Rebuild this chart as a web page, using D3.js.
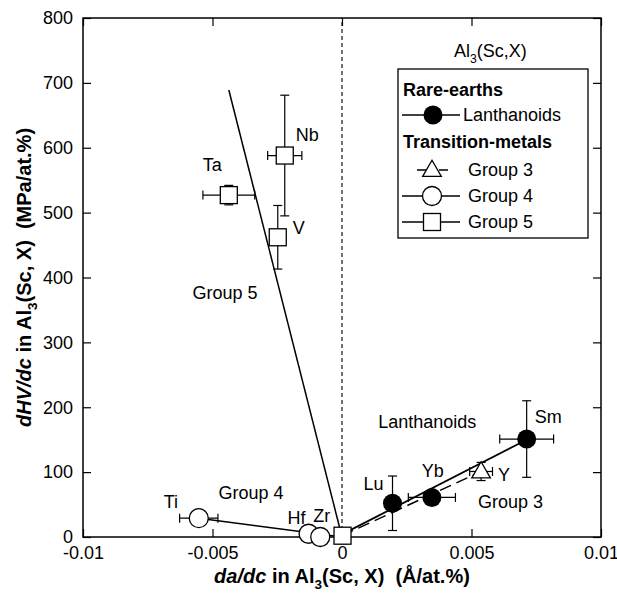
<!DOCTYPE html>
<html lang="en">
<head>
<meta charset="utf-8">
<title>dHV/dc vs da/dc in Al3(Sc,X)</title>
<script src="https://d3js.org/d3.v7.min.js"></script>
<style>
  body { margin: 0; background: #fff; }
  svg { font-family: "Liberation Sans", Arial, sans-serif; }
  .frame { fill: none; stroke: #000; stroke-width: 1.5; }
  .axis path { display: none; }
  .axis line { stroke: #000; stroke-width: 1.2; }
  .axis text { font-size: 18px; fill: #000; font-family: "Liberation Sans", Arial, sans-serif; }
</style>
</head>
<body>
<script>
// axis ticks
var xTicks = [-0.01, -0.005, 0, 0.005, 0.01];
var xTickLabels = ["-0.01", "-0.005", "0", "0.005", "0.01"];
var yTicks = [0, 100, 200, 300, 400, 500, 600, 700, 800];

// rare-earths (lanthanoids)
var lanthNames = ["Lu", "Yb", "Sm"];
var lanthDa    = [0.00195, 0.00347, 0.00713];
var lanthDaErr = [0, 0.00091, 0.00104];
var lanthHv    = [52, 61, 151];
var lanthHvErr = [42, 6, 59];
var lanthFit   = [[0, 4], [0.00713, 150]];

// group 3
var g3Names = ["Y"];
var g3Da    = [0.00537];
var g3DaErr = [0.00044];
var g3Hv    = [101];
var g3HvErr = [14];
var g3Fit   = [[0, 2], [0.00537, 101]];

// group 4
var g4Names = ["Ti", "Hf", "Zr"];
var g4Da    = [-0.00553, -0.00129, -0.00084];
var g4DaErr = [0.00074, 0, 0];
var g4Hv    = [29, 5, 0];
var g4HvErr = [0, 0, 0];
var g4Fit   = [[-0.00553, 29], [0, 0]];

// group 5 (first point is Al3Sc itself)
var g5Names = ["", "Ta", "Nb", "V"];
var g5Da    = [0.00002, -0.00437, -0.00221, -0.00248];
var g5DaErr = [0, 0.001, 0.00066, 0];
var g5Hv    = [2, 527, 588, 462];
var g5HvErr = [0, 15, 93, 49];
var g5Fit   = [[-0.00437, 689], [0, 0]];

var W = 617, H = 595;
var margin = {top: 18, right: 16, bottom: 58, left: 83};
var width = W - margin.left - margin.right,
    height = H - margin.top - margin.bottom;

var svg = d3.select("body").append("svg")
    .attr("width", W)
    .attr("height", H);

var g = svg.append("g")
    .attr("transform", "translate(" + margin.left + "," + margin.top + ")");

var x = d3.scaleLinear().domain([-0.01, 0.01]).range([0, width]);
var y = d3.scaleLinear().domain([0, 800]).range([height, 0]);

// axes with inward ticks, mirrored on top/right
g.append("g").attr("class", "axis")
    .attr("transform", "translate(0," + height + ")")
    .call(d3.axisBottom(x).tickValues(xTicks).tickSizeInner(-8).tickSizeOuter(0).tickPadding(9)
        .tickFormat(function(d, i) { return xTickLabels[i]; }));
g.append("g").attr("class", "axis")
    .call(d3.axisTop(x).tickValues(xTicks).tickSizeInner(-8).tickSizeOuter(0).tickFormat(""));
g.append("g").attr("class", "axis")
    .call(d3.axisLeft(y).tickValues(yTicks).tickSizeInner(-8).tickSizeOuter(0).tickPadding(10)
        .tickFormat(d3.format("d")));
g.append("g").attr("class", "axis")
    .attr("transform", "translate(" + width + ",0)")
    .call(d3.axisRight(y).tickValues(yTicks).tickSizeInner(-8).tickSizeOuter(0).tickFormat(""));

// dashed line at da/dc = 0
g.append("line")
    .attr("x1", x(0)).attr("x2", x(0))
    .attr("y1", y(0)).attr("y2", y(800))
    .attr("stroke", "#000").attr("stroke-width", 1.1)
    .attr("stroke-dasharray", "4,3");

g.append("rect").attr("class", "frame")
    .attr("width", width).attr("height", height);

// helper: rich text with subscripts / bold / italic
function rich(sel, parts, size) {
  parts.forEach(function(p) {
    var t = sel.append("tspan").text(p.t);
    if (p.b) t.attr("font-weight", "bold");
    if (p.i) t.attr("font-style", "italic");
    if (p.sub) {
      t.attr("font-size", size * 0.68).attr("dy", size * 0.3);
    } else if (p.after) {
      t.attr("dy", -size * 0.3);
    }
  });
}

// fit lines
var line = d3.line().x(function(d) { return x(d[0]); }).y(function(d) { return y(d[1]); });
g.append("path").datum(g5Fit).attr("d", line)
    .attr("fill", "none").attr("stroke", "#000").attr("stroke-width", 1.5);
g.append("path").datum(g4Fit).attr("d", line)
    .attr("fill", "none").attr("stroke", "#000").attr("stroke-width", 1.5);
g.append("path").datum(g3Fit).attr("d", line)
    .attr("fill", "none").attr("stroke", "#000").attr("stroke-width", 1.5)
    .attr("stroke-dasharray", "12,6");
g.append("path").datum(lanthFit).attr("d", line)
    .attr("fill", "none").attr("stroke", "#000").attr("stroke-width", 1.8);

// error bars
function errorBars(da, daErr, hv, hvErr) {
  var cap = 4.5;
  var eb = g.append("g").attr("stroke", "#000").attr("stroke-width", 1.2);
  da.forEach(function(d, i) {
    var cx = x(d), cy = y(hv[i]);
    if (daErr[i] > 0) {
      var x0 = x(d - daErr[i]), x1 = x(d + daErr[i]);
      eb.append("line").attr("x1", x0).attr("x2", x1).attr("y1", cy).attr("y2", cy);
      eb.append("line").attr("x1", x0).attr("x2", x0).attr("y1", cy - cap).attr("y2", cy + cap);
      eb.append("line").attr("x1", x1).attr("x2", x1).attr("y1", cy - cap).attr("y2", cy + cap);
    }
    if (hvErr[i] > 0) {
      var y0 = y(hv[i] - hvErr[i]), y1 = y(hv[i] + hvErr[i]);
      eb.append("line").attr("x1", cx).attr("x2", cx).attr("y1", y0).attr("y2", y1);
      eb.append("line").attr("x1", cx - cap).attr("x2", cx + cap).attr("y1", y0).attr("y2", y0);
      eb.append("line").attr("x1", cx - cap).attr("x2", cx + cap).attr("y1", y1).attr("y2", y1);
    }
  });
}
errorBars(g5Da, g5DaErr, g5Hv, g5HvErr);
errorBars(g4Da, g4DaErr, g4Hv, g4HvErr);
errorBars(g3Da, g3DaErr, g3Hv, g3HvErr);
errorBars(lanthDa, lanthDaErr, lanthHv, lanthHvErr);

// markers
var sq = 17, r = 9.5;
var triangle = d3.symbol().type(d3.symbolTriangle).size(150);

g.append("g").selectAll("rect").data(g5Da).enter().append("rect")
    .attr("x", function(d) { return x(d) - sq / 2; })
    .attr("y", function(d, i) { return y(g5Hv[i]) - sq / 2; })
    .attr("width", sq).attr("height", sq)
    .attr("fill", "#fff").attr("stroke", "#000").attr("stroke-width", 1.3);

g.append("g").selectAll("circle").data(g4Da).enter().append("circle")
    .attr("cx", function(d) { return x(d); })
    .attr("cy", function(d, i) { return y(g4Hv[i]); })
    .attr("r", r)
    .attr("fill", "#fff").attr("stroke", "#000").attr("stroke-width", 1.3);

g.append("g").selectAll("path").data(g3Da).enter().append("path")
    .attr("d", triangle)
    .attr("transform", function(d, i) { return "translate(" + x(d) + "," + (y(g3Hv[i]) + 1) + ")"; })
    .attr("fill", "#fff").attr("stroke", "#000").attr("stroke-width", 1.3);

g.append("g").selectAll("circle").data(lanthDa).enter().append("circle")
    .attr("cx", function(d) { return x(d); })
    .attr("cy", function(d, i) { return y(lanthHv[i]); })
    .attr("r", r)
    .attr("fill", "#000");

// point labels, offsets [dx, dy, anchor]
var fs = 18;
function pointLabels(names, da, hv, offs) {
  names.forEach(function(n, i) {
    if (!n) return;
    var o = offs[i];
    g.append("text")
        .attr("x", x(da[i]) + o[0]).attr("y", y(hv[i]) + o[1])
        .attr("dy", "0.35em")
        .attr("text-anchor", o[2])
        .attr("font-size", fs)
        .text(n);
  });
}
pointLabels(g5Names, g5Da, g5Hv, [null, [-26, -30, "start"], [11, -21, "start"], [15, -10, "start"]]);
pointLabels(g4Names, g4Da, g4Hv, [[-35, -16, "start"], [-3, -16, "end"], [-7, -21, "start"]]);
pointLabels(g3Names, g3Da, g3Hv, [[17, 3, "start"]]);
pointLabels(lanthNames, lanthDa, lanthHv, [[-9, -20, "end"], [-10, -27, "start"], [8, -22, "start"]]);

// group annotations
var groupLabels = [
  {t: "Group 5", da: -0.00577, hv: 376},
  {t: "Group 4", da: -0.00477, hv: 69},
  {t: "Lanthanoids", da: 0.0014, hv: 177},
  {t: "Group 3", da: 0.00525, hv: 54}
];
g.selectAll(".glab").data(groupLabels).enter().append("text")
    .attr("class", "glab")
    .attr("x", function(d) { return x(d.da); })
    .attr("y", function(d) { return y(d.hv); })
    .attr("dy", "0.35em")
    .attr("font-size", fs)
    .text(function(d) { return d.t; });

// Al3(Sc,X) heading
var head = g.append("text")
    .attr("x", x(0.00573)).attr("y", y(749)).attr("dy", "0.35em")
    .attr("text-anchor", "middle").attr("font-size", fs);
rich(head, [{t: "Al"}, {t: "3", sub: true}, {t: "(Sc,X)", after: true}], fs);

// legend
var lg = svg.append("g").attr("transform", "translate(398,69)");
lg.append("rect").attr("width", 190).attr("height", 169)
    .attr("fill", "#fff").attr("stroke", "#000").attr("stroke-width", 1.3);

lg.append("text").attr("x", 5).attr("y", 21).attr("dy", "0.35em")
    .attr("font-size", fs).attr("font-weight", "bold").text("Rare-earths");
lg.append("text").attr("x", 5).attr("y", 73).attr("dy", "0.35em")
    .attr("font-size", fs).attr("font-weight", "bold").text("Transition-metals");

var rows = [
  {y: 46, label: "Lanthanoids", kind: "filled", tx: 65},
  {y: 101, label: "Group 3", kind: "triangle", tx: 70},
  {y: 127, label: "Group 4", kind: "circle", tx: 70},
  {y: 153, label: "Group 5", kind: "square", tx: 70}
];
rows.forEach(function(d) {
  var row = lg.append("g").attr("transform", "translate(0," + d.y + ")");
  if (d.kind === "triangle") {
    row.append("line").attr("x1", 19).attr("x2", 57).attr("y1", 0).attr("y2", 0)
        .attr("stroke", "#000").attr("stroke-width", 1.3).attr("stroke-dasharray", "9,13");
    row.append("path").attr("d", triangle).attr("transform", "translate(34,1)")
        .attr("fill", "#fff").attr("stroke", "#000").attr("stroke-width", 1.3);
  } else {
    row.append("line").attr("x1", 4).attr("x2", 62).attr("y1", 0).attr("y2", 0)
        .attr("stroke", "#000").attr("stroke-width", 1.3);
    if (d.kind === "filled") {
      row.append("circle").attr("cx", 35).attr("r", r).attr("fill", "#000");
    } else if (d.kind === "circle") {
      row.append("circle").attr("cx", 34).attr("r", r)
          .attr("fill", "#fff").attr("stroke", "#000").attr("stroke-width", 1.3);
    } else {
      row.append("rect").attr("x", 34 - sq / 2).attr("y", -sq / 2).attr("width", sq).attr("height", sq)
          .attr("fill", "#fff").attr("stroke", "#000").attr("stroke-width", 1.3);
    }
  }
  row.append("text").attr("x", d.tx).attr("dy", "0.35em").attr("font-size", fs).text(d.label);
});

// axis titles
var tfs = 20;
var xt = svg.append("text")
    .attr("x", margin.left + width / 2).attr("y", 583)
    .attr("text-anchor", "middle").attr("font-size", tfs).attr("font-weight", "bold");
rich(xt, [{t: "da/dc", i: true}, {t: " in Al"}, {t: "3", sub: true}, {t: "(Sc, X)\u00a0\u00a0(\u00c5/at.%)", after: true}], tfs);

var yt = svg.append("text")
    .attr("transform", "translate(31," + (margin.top + height / 2) + ") rotate(-90)")
    .attr("text-anchor", "middle").attr("font-size", tfs).attr("font-weight", "bold");
rich(yt, [{t: "dHV/dc", i: true}, {t: " in Al"}, {t: "3", sub: true}, {t: "(Sc, X)\u00a0\u00a0(MPa/at.%)", after: true}], tfs);
</script>
</body>
</html>
